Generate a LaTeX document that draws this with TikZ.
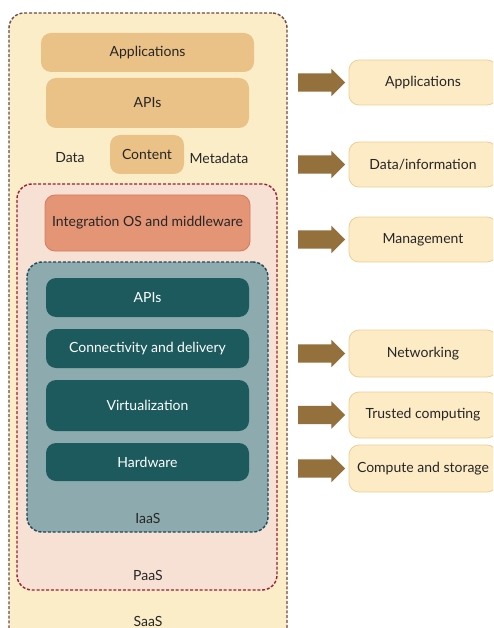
\documentclass[tikz,border=0pt]{standalone}
\usepackage{fontspec}
\setmainfont{Lato}
\usetikzlibrary{shapes.arrows}

\definecolor{saasfill}{HTML}{FBEDC8}
\definecolor{saasline}{HTML}{6E4A45}
\definecolor{tanfill}{HTML}{EAC186}
\definecolor{paasfill}{HTML}{F7E1D5}
\definecolor{paasline}{HTML}{9A1F33}
\definecolor{intfill}{HTML}{E39576}
\definecolor{intline}{HTML}{D77B5D}
\definecolor{iaasfill}{HTML}{8DABAE}
\definecolor{iaasline}{HTML}{1A4A5A}
\definecolor{tealfill}{HTML}{1C5A5E}
\definecolor{sidefill}{HTML}{FCEBC5}
\definecolor{sideline}{HTML}{F0CF94}
\definecolor{arrowfill}{HTML}{94703C}
\definecolor{txtdark}{HTML}{262626}

\begin{document}
\begin{tikzpicture}[
  x=1pt, y=-1pt,
  every node/.style={inner sep=0pt, text=txtdark, font=\fontsize{14}{16}\selectfont},
  layerbox/.style={rounded corners=15pt, line width=1.4pt, dash pattern=on 3pt off 1.8pt},
  tanbox/.style={fill=tanfill, rounded corners=10pt},
  tealbox/.style={fill=tealfill, rounded corners=10pt, minimum width=203pt, text=white},
  sidebox/.style={draw=sideline, fill=sidefill, line width=0.8pt, rounded corners=10pt, minimum width=148pt},
  blockarrow/.style={single arrow, fill=arrowfill, inner ysep=9pt, inner xsep=0pt, minimum height=47pt, single arrow head extend=4.5pt}
]
\clip (0,0) rectangle (493,628);
\fill[white] (0,0) rectangle (493,628);

% SaaS layer
\node[layerbox, draw=saasline, fill=saasfill, minimum width=278pt, minimum height=637pt] (saas) at (148,331.5) {};
\node[tanbox, minimum width=213pt, minimum height=39pt] (sapps) at (147.5,52.5) {Applications};
\node[tanbox, minimum width=203pt, minimum height=50pt] (sapis) at (147.5,103) {APIs};
\node[tanbox, minimum width=74pt, minimum height=39pt] (content) at (147,154.5) {Content};
\node (data) at (70,158) {Data};
\node (meta) at (219,158) {Metadata};
\node (saaslbl) at (148,621) {SaaS};

% PaaS layer
\node[layerbox, draw=paasline, fill=paasfill, minimum width=260pt, minimum height=406pt] (paas) at (147,387) {};
\node[draw=intline, fill=intfill, line width=0.8pt, rounded corners=10pt, minimum width=205pt, minimum height=56pt] (integ) at (147.5,223) {Integration OS and middleware};
\node (paaslbl) at (148,575) {PaaS};

% IaaS layer
\node[layerbox, draw=iaasline, fill=iaasfill, minimum width=241pt, minimum height=270pt] (iaas) at (147.5,397) {};
\node[tealbox, minimum height=39pt] (iapis) at (147.5,297.5) {APIs};
\node[tealbox, minimum height=39pt] (conn) at (147.5,348.5) {Connectivity and delivery};
\node[tealbox, minimum height=51pt] (virt) at (147.5,405.5) {Virtualization};
\node[tealbox, minimum height=38pt] (hw) at (147.5,462) {Hardware};
\node (iaaslbl) at (148,518) {IaaS};

% Arrows and side boxes
\foreach \y/\h/\name/\txt in {82.5/45/apps/Applications, 164.5/45/info/Data\slash information, 239.5/45/mgmt/Management, 353.5/47/net/Networking, 415/46/trust/Trusted computing, 468.5/47/comp/Compute and storage} {
  \node[blockarrow] (a-\name) at (317,\y) {};
  \node[sidebox, minimum height=\h pt] (s-\name) at (423,\y) {\txt};
}

\end{tikzpicture}
\end{document}
